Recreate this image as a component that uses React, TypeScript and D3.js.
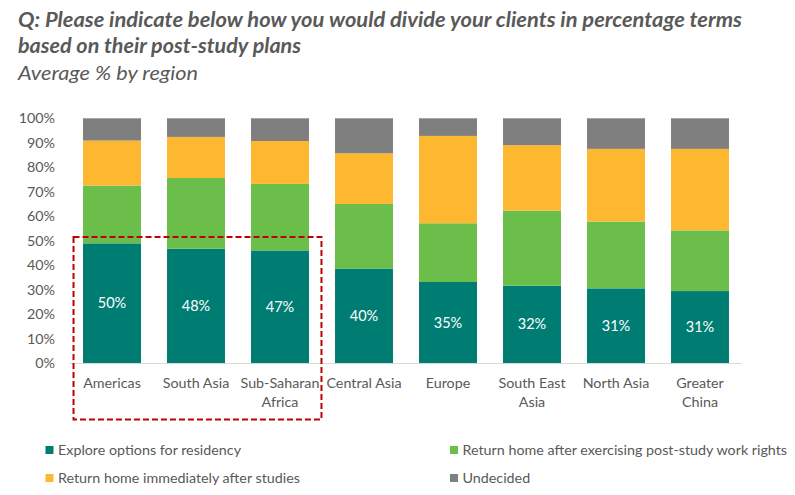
import React from "react";
import * as d3 from "d3";

const categories = [
  "Americas",
  "South Asia",
  "Sub-Saharan\nAfrica",
  "Central Asia",
  "Europe",
  "South East\nAsia",
  "North Asia",
  "Greater\nChina",
];
const explore = [48.9, 46.7, 46.0, 38.6, 33.1, 31.6, 30.5, 29.4];
const returnAfterWork = [23.6, 28.9, 27.2, 26.4, 24.0, 30.7, 27.3, 24.8];
const returnImmediately = [18.4, 16.8, 17.5, 20.7, 35.7, 26.7, 29.7, 33.3];
const undecided = [9.1, 7.6, 9.3, 14.3, 7.2, 11.0, 12.5, 12.5];
const exploreLabels = ["50%", "48%", "47%", "40%", "35%", "32%", "31%", "31%"];
const seriesNames = [
  "Explore options for residency",
  "Return home after exercising post-study work rights",
  "Return home immediately after studies",
  "Undecided",
];
const yTicks = [0, 10, 20, 30, 40, 50, 60, 70, 80, 90, 100];
const highlighted = ["Americas", "South Asia", "Sub-Saharan\nAfrica"];

const colors = ["#007D73", "#6BBE4A", "#FDB830", "#7F7F7F"];
const textColor = "#595959";
const font = "Lato, 'Open Sans', sans-serif";

export default function App() {
  const width = 795;
  const height = 495;
  const x = d3
    .scaleBand<string>()
    .domain(categories)
    .range([70, 742])
    .paddingInner(0.31)
    .paddingOuter(0.155);
  const y = d3.scaleLinear().domain([0, 100]).range([363, 118.3]);

  const rows = categories.map((c, i) => ({
    cat: c,
    s0: explore[i],
    s1: returnAfterWork[i],
    s2: returnImmediately[i],
    s3: undecided[i],
  }));
  const stack = d3.stack<any>().keys(["s0", "s1", "s2", "s3"]);
  const stacked = stack(rows);

  const hlFirst = x(highlighted[0])!;
  const hlLast = x(highlighted[highlighted.length - 1])!;
  const boxLeft = hlFirst - 9.5;
  const boxRight = hlLast + x.bandwidth() + 12.5;
  const boxTop = y(51.5);

  const legendItems = [
    { i: 0, x: 45.5, y: 450 },
    { i: 1, x: 450, y: 450 },
    { i: 2, x: 45.5, y: 478 },
    { i: 3, x: 450, y: 478 },
  ];

  return (
    <svg
      width={width}
      height={height}
      style={{ position: "absolute", left: 0, top: 0, background: "#fff" }}
      fontFamily={font}
    >
      <text x={18} y={27} fontSize={20} fontWeight="bold" fontStyle="italic" fill={textColor}
        textLength={724} lengthAdjust="spacingAndGlyphs">
        Q: Please indicate below how you would divide your clients in percentage terms
      </text>
      <text x={18} y={53} fontSize={20} fontWeight="bold" fontStyle="italic" fill={textColor}
        textLength={283} lengthAdjust="spacingAndGlyphs">
        based on their post-study plans
      </text>
      <text x={18} y={80} fontSize={19} fontStyle="italic" fill={textColor}
        textLength={180} lengthAdjust="spacingAndGlyphs">
        Average % by region
      </text>

      {yTicks.map((t) => (
        <text key={t} x={55} y={y(t)} dy="0.35em" textAnchor="end" fontSize={14.3} fill={textColor}>
          {t}%
        </text>
      ))}

      {stacked.map((layer, li) => (
        <g key={li} fill={colors[li]}>
          {layer.map((d: any, i: number) => (
            <rect
              key={i}
              x={x(categories[i])}
              width={x.bandwidth()}
              y={y(d[1])}
              height={y(d[0]) - y(d[1])}
            />
          ))}
        </g>
      ))}

      <line x1={70} x2={742} y1={363.5} y2={363.5} stroke="#D9D9D9" strokeWidth={1} />

      {stacked[0].map((d: any, i: number) => (
        <text
          key={i}
          x={x(categories[i])! + x.bandwidth() / 2}
          y={y((d[0] + d[1]) / 2)}
          dy="0.35em"
          textAnchor="middle"
          fontSize={14.5}
          fill="#fff"
        >
          {exploreLabels[i]}
        </text>
      ))}

      {categories.map((c) => (
        <text key={c} textAnchor="middle" fontSize={14.3} fill={textColor}>
          {c.split("\n").map((line, li) => (
            <tspan key={li} x={x(c)! + x.bandwidth() / 2} y={387.5 + li * 19}>
              {line}
            </tspan>
          ))}
        </text>
      ))}

      <rect
        x={boxLeft}
        y={boxTop}
        width={boxRight - boxLeft}
        height={419.5 - boxTop}
        fill="none"
        stroke="#C00000"
        strokeWidth={2}
        strokeDasharray="6,3"
      />

      {legendItems.map((it) => (
        <g key={it.i}>
          <rect x={it.x} y={it.y - 4} width={8} height={8} fill={colors[it.i]} />
          <text x={it.x + 12.5} y={it.y} dy="0.35em" fontSize={14.3} fill={textColor}>
            {seriesNames[it.i]}
          </text>
        </g>
      ))}
    </svg>
  );
}
